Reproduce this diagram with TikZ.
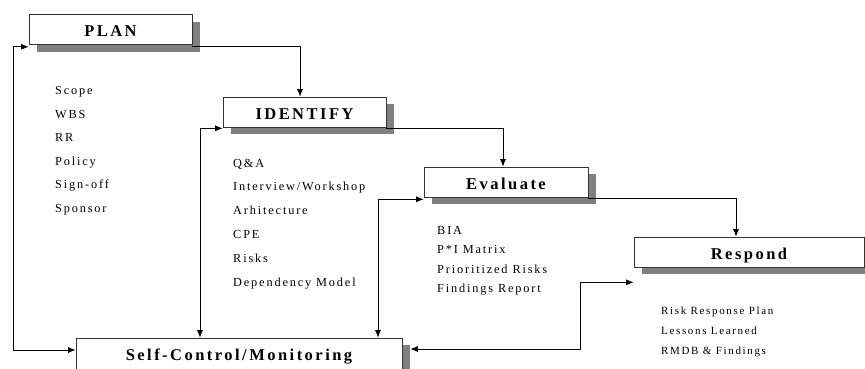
\documentclass[tikz,border=0pt]{standalone}
\usepackage{fontspec}
\usetikzlibrary{arrows.meta,shadows}
\newfontfamily\spacedfont[LetterSpace=15]{Liberation Serif}

\tikzset{
  stage/.style={draw=black!80, fill=white, line width=0.6pt, inner sep=0pt,
    minimum height=30pt, text height=14pt, text depth=0pt,
    font=\spacedfont\bfseries\fontsize{16.5}{18}\selectfont,
    drop shadow={shadow xshift=8pt, shadow yshift=-7pt, fill=black!50, opacity=1}},
  item/.style={anchor=base west, inner sep=0pt,
    font=\spacedfont\fontsize{12.3}{14}\selectfont},
  smallitem/.style={item, font=\spacedfont\fontsize{11}{13}\selectfont},
  link/.style={line width=0.9pt}
}

\begin{document}
\begin{tikzpicture}[x=1pt,y=-1pt,>={Latex[length=7.5pt,width=6pt]}]
\useasboundingbox (0,0) rectangle (865,368);
\clip (0,0) rectangle (865,368);

% stages
\node[stage, minimum width=163pt] (plan) at (110.5,29.5) {PLAN};
\node[stage, minimum width=163pt] (identify) at (304.5,112) {IDENTIFY};
\node[stage, minimum width=164pt] (evaluate) at (506,182) {Evaluate};
\node[stage, minimum width=230pt] (respond) at (749,252) {Respond};
\node[stage, minimum width=326pt, minimum height=31pt] (monitor) at (239,353.5) {Self-Control/Monitoring};

% lists
\node[item] (scope) at (55,94.5) {Scope};
\node[item] (wbs) at (55,118) {WBS};
\node[item] (rr) at (55,141.5) {RR};
\node[item] (policy) at (55,165) {Policy};
\node[item] (signoff) at (55,188.5) {Sign-off};
\node[item] (sponsor) at (55,212) {Sponsor};

\node[item] (qa) at (233,167) {Q\&A};
\node[item] (interview) at (233,190) {Interview/Workshop};
\node[item] (arch) at (233,214) {Arhitecture};
\node[item] (cpe) at (233,238) {CPE};
\node[item] (risks) at (233,262) {Risks};
\node[item] (depmodel) at (233,286) {Dependency Model};

\node[item] (bia) at (437,234) {BIA};
\node[item] (pimatrix) at (437,253) {P*I Matrix};
\node[item] (prio) at (437,273) {Prioritized Risks};
\node[item] (findings) at (437,292) {Findings Report};

\node[smallitem] (rrplan) at (661,314) {Risk Response Plan};
\node[smallitem] (lessons) at (661,334) {Lessons Learned};
\node[smallitem] (rmdb) at (661,354) {RMDB \& Findings};

% forward flow
\draw[link,->] ([yshift=-1.5pt]plan.south east) -| ([xshift=-4.5pt]identify.north);
\draw[link,->] ([yshift=-1.5pt]identify.south east) -| ([xshift=-3pt]evaluate.north);
\draw[link,->] ([yshift=-1.5pt]evaluate.south east) -| ([xshift=-13pt]respond.north);

% monitoring loops
\coordinate (loopA) at (13,350);
\coordinate (loopB) at (580,349);
\draw[link,<->] ([yshift=-2pt]plan.south west) -| (loopA) -- (monitor.west |- loopA);
\draw[link,<->] ([yshift=-1pt]identify.south west) -| ([xshift=-39pt]monitor.north);
\draw[link,<->] ([yshift=-2pt]evaluate.south west) -| ([xshift=139pt]monitor.north);
\draw[link,<->] ([yshift=-15pt]respond.south west) -| (loopB) -- ([xshift=8pt]monitor.east |- loopB);
\end{tikzpicture}
\end{document}
